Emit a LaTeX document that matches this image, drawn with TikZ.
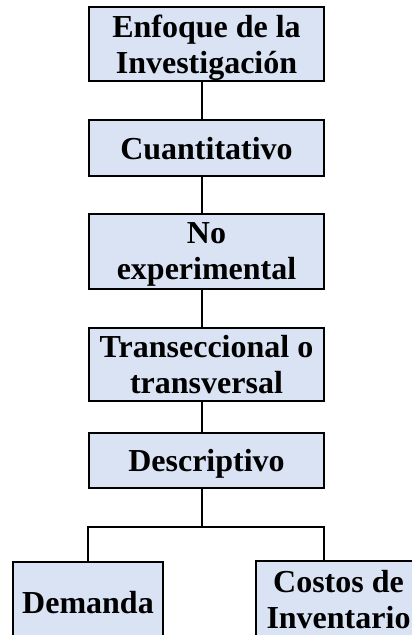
\documentclass[tikz,border=0pt]{standalone}
\usepackage{fontspec}
\setmainfont{Liberation Serif}
\definecolor{boxfill}{HTML}{DAE3F3}
\tikzset{
    level-box/.style = {draw=black, fill=boxfill, line width=2pt, rectangle, align=center, inner sep=0pt, text depth=0pt, minimum width=235pt, font=\bfseries\fontsize{32}{36}\selectfont},
    link/.style = {draw=black, line width=2pt},
}

\begin{document}
\begin{tikzpicture}[x=1pt,y=1pt]
\useasboundingbox (0,0) rectangle (412,-635);
\clip (0,0) rectangle (412,-635);
\node [level-box, minimum height=74pt] (enfoque) at (206.5,-44) {Enfoque de la\\Investigación};
\node [level-box, minimum height=56pt] (cuanti) at (206.5,-148) {Cuantitativo};
\node [level-box, minimum height=75pt] (noexp) at (206.5,-251.5) {No\\experimental};
\node [level-box, minimum height=73pt] (transec) at (206.5,-364.5) {Transeccional o\\transversal};
\node [level-box, minimum height=55pt] (descrip) at (206.5,-460.5) {Descriptivo};
\node [level-box, minimum width=150pt, minimum height=80pt] (demanda) at (88,-602) {Demanda};
\node [level-box, minimum width=166pt, minimum height=76pt] (costos) at (338.5,-599) {Costos de\\Inventario};
% tronco
\draw [link] ([xshift=-4.5pt]enfoque.south) -- ([xshift=-4.5pt]cuanti.north);
\draw [link] ([xshift=-4.5pt]cuanti.south) -- ([xshift=-4.5pt]noexp.north);
\draw [link] ([xshift=-4.5pt]noexp.south) -- ([xshift=-4.5pt]transec.north);
\draw [link] ([xshift=-4.5pt]transec.south) -- ([xshift=-4.5pt]descrip.north);
% ramas
\coordinate (split) at ([xshift=-4.5pt,yshift=-38pt]descrip.south);
\draw [link] ([xshift=-4.5pt]descrip.south) -- (split) -| (demanda.north);
\draw [link] (split) -| ([xshift=-14.5pt]costos.north);
\end{tikzpicture}
\end{document}
